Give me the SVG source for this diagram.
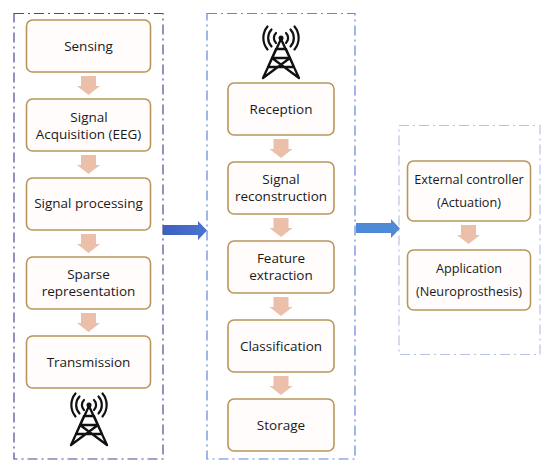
<svg xmlns="http://www.w3.org/2000/svg" width="550" height="470" viewBox="0 0 550 470">
<style>
.box{fill:#fffcfb;stroke:#b8965c;stroke-width:1.6}
.c{fill:none;stroke-width:1.2;stroke-dasharray:10 4 2 4}
text{font-family:"Open Sans","Noto Sans",sans-serif;font-size:13.5px;fill:#1a1a1a;text-anchor:middle}
.s{font-size:12.7px}
.t{fill:none;stroke:#111;stroke-width:2.3;stroke-linejoin:round;stroke-linecap:round}
.w{fill:none;stroke:#111;stroke-width:2.2;stroke-linecap:round}
</style>
<defs>
<polygon id="down" points="-7.500,0 7.500,0 7.500,10 11.500,10 0,19 -11.500,10 -7.500,10" fill="#ebbfa9"/>
<g id="tower">
<path class="t" d="M0 2 L-18 41 M0 2 L18 41 M-5 12 H5 M-9 21 H9 M-12 30 L12 30 M-18 41 L9 21 M18 41 L-9 21 M-13 30 L-5 12 M13 30 L5 12"/>
<circle cx="0" cy="1" r="2.500" fill="#111"/>
<path class="w" d="M-5 -4 A7 7 0 0 0 -5 6 M5 -4 A7 7 0 0 1 5 6 M-9.500 -7.500 A12.500 12.500 0 0 0 -9.500 9.500 M9.500 -7.500 A12.500 12.500 0 0 1 9.500 9.500 M-13.500 -10.500 A18 18 0 0 0 -13.500 12.500 M13.500 -10.500 A18 18 0 0 1 13.500 12.500"/>
</g>
<linearGradient id="a1" x1="0" x2="1" y1="0" y2="0"><stop offset="0" stop-color="#3f5fc0"/><stop offset="1" stop-color="#4a74d0"/></linearGradient>
</defs>
<g id="containers">
<rect class="c" x="14" y="13.500" width="149" height="445.500" stroke="#474c8e"/>
<rect class="c" x="207" y="13.500" width="148" height="445.500" stroke="#5f86da"/>
<rect class="c" x="399" y="125.500" width="141" height="229" stroke="#b9c2e6"/>
</g>
<g id="connectors">
<use href="#down" x="88.500" y="76"/>
<use href="#down" x="88.500" y="155"/>
<use href="#down" x="88.500" y="234"/>
<use href="#down" x="88.500" y="313"/>
<use href="#down" x="281" y="139"/>
<use href="#down" x="281" y="218"/>
<use href="#down" x="281" y="297"/>
<use href="#down" x="281" y="376"/>
<use href="#down" x="468.500" y="225"/>
<polygon points="163,225 198,225 198,221 207,230.500 198,240 198,235 163,235" fill="url(#a1)"/>
<polygon points="356,223 391,223 391,219 400,228.500 391,238 391,233 356,233" fill="#4f8ad8"/>
</g>
<g id="sensing"><rect class="box" x="26.500" y="20" width="124" height="52" rx="6"/><text x="88.500" y="51">Sensing</text></g>
<g id="acquisition"><rect class="box" x="26.500" y="99" width="124" height="52" rx="6"/><text x="89" y="122">Signal</text><text x="88.500" y="139">Acquisition (EEG)</text></g>
<g id="processing"><rect class="box" x="26.500" y="178" width="124" height="52" rx="6"/><text x="88.500" y="208">Signal processing</text></g>
<g id="sparse"><rect class="box" x="26.500" y="257" width="124" height="52" rx="6"/><text x="88.500" y="279">Sparse</text><text x="88.500" y="296">representation</text></g>
<g id="transmission"><rect class="box" x="26.500" y="336" width="124" height="52" rx="6"/><text x="88.500" y="367">Transmission</text></g>
<g id="tower-left"><use href="#tower" x="89" y="404"/></g>
<g id="tower-right"><use href="#tower" x="281" y="37"/></g>
<g id="reception"><rect class="box" x="228" y="83" width="106" height="52" rx="6"/><text x="281" y="114">Reception</text></g>
<g id="reconstruction"><rect class="box" x="228" y="162" width="106" height="52" rx="6"/><text x="281" y="184">Signal</text><text x="281" y="201">reconstruction</text></g>
<g id="feature"><rect class="box" x="228" y="241" width="106" height="52" rx="6"/><text x="281" y="263">Feature</text><text x="281" y="280">extraction</text></g>
<g id="classification"><rect class="box" x="228" y="320" width="106" height="52" rx="6"/><text x="281" y="351">Classification</text></g>
<g id="storage"><rect class="box" x="228" y="399" width="106" height="52" rx="6"/><text x="281" y="430">Storage</text></g>
<g id="controller"><rect class="box" x="407.500" y="161" width="123" height="60" rx="6"/><text class="s" x="469" y="184">External controller</text><text class="s" x="469" y="207">(Actuation)</text></g>
<g id="application"><rect class="box" x="407.500" y="250" width="123" height="60" rx="6"/><text class="s" x="469" y="273">Application</text><text class="s" x="469" y="296">(Neuroprosthesis)</text></g>
</svg>
